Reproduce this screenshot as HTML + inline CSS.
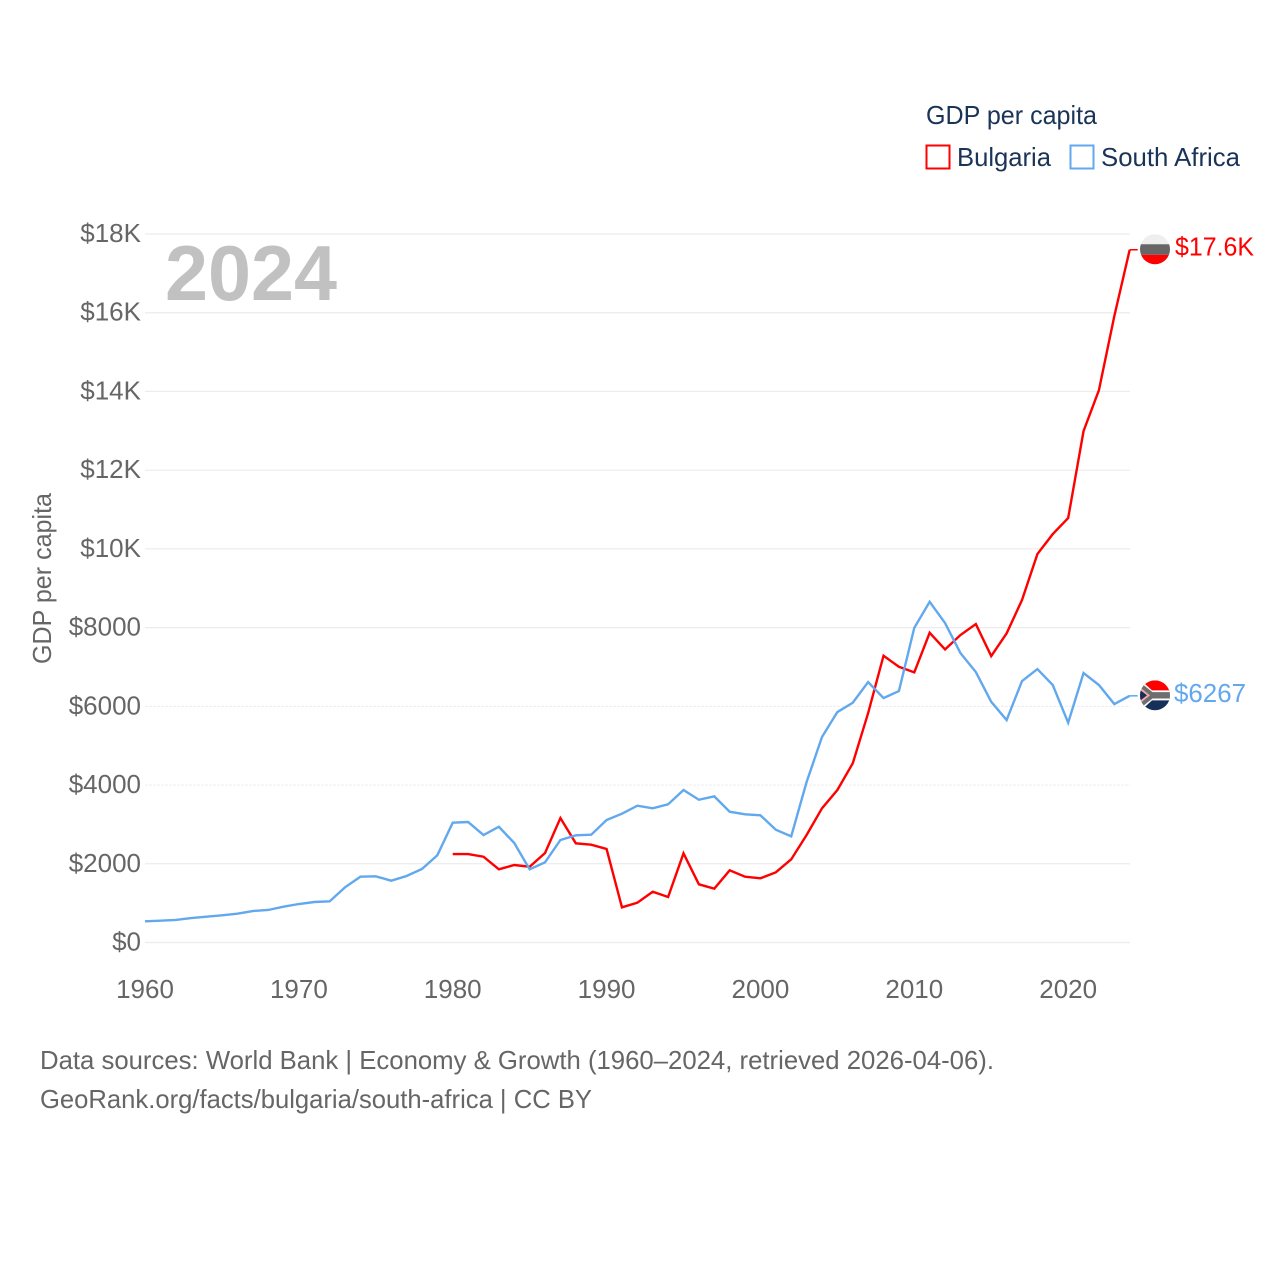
<!DOCTYPE html>
<html lang="en">
<head>
<meta charset="utf-8">
<title>GDP per capita: Bulgaria and South Africa</title>
<style>
html,body{margin:0;padding:0;background:#fff;}
svg{display:block;font-family:"Liberation Sans",sans-serif;}
.tick{font-size:26px;fill:#666;}
.legend{font-size:26px;fill:#1a3358;}
.foot{font-size:26px;fill:#666;}
</style>
</head>
<body>
<svg id="chart" width="1280" height="1280" viewBox="0 0 1280 1280" xmlns="http://www.w3.org/2000/svg">
  <defs>
    <clipPath id="flag-clip"><circle cx="0" cy="0" r="15"></circle></clipPath>
  </defs>
  <rect width="1280" height="1280" fill="#fff"></rect>
  <g id="grid"></g>
  <g id="yticks"></g>
  <g id="xticks"></g>
  <text x="165" y="300" font-size="78" font-weight="bold" fill="#c1c1c1" textLength="172" lengthAdjust="spacingAndGlyphs">2024</text>
  <text class="tick" transform="translate(51,578.5) rotate(-90)" text-anchor="middle" textLength="171" lengthAdjust="spacingAndGlyphs">GDP per capita</text>
  <g id="series"></g>

  <g id="flag-bg">
    <g clip-path="url(#flag-clip)">
      <rect x="-15" y="-15" width="30" height="10" fill="#eeeeee"></rect>
      <rect x="-15" y="-5" width="30" height="10.5" fill="#666666"></rect>
      <rect x="-15" y="5.5" width="30" height="10" fill="#ff0000"></rect>
    </g>
  </g>
  <g id="flag-za">
    <g clip-path="url(#flag-clip)">
      <rect x="-15" y="-15" width="30" height="15" fill="#ff0000"></rect>
      <rect x="-15" y="0" width="30" height="15" fill="#17305a"></rect>
      <path d="M-15,-16 L-3,-5 L15,-5 L15,5 L-3,5 L-15,16 Z" fill="#fff"></path>
      <path d="M-15,-13 L-2.5,-3.2 L15,-3.2 L15,3.2 L-2.5,3.2 L-15,13 Z" fill="#6e6e6e"></path>
      <path d="M-15,-8 L-5,0 L-15,8 Z" fill="#f4a9a9"></path>
      <path d="M-15,-5.5 L-8,0 L-15,5.5 Z" fill="#17305a"></path>
    </g>
  </g>
  <text id="label-bg" font-size="26" fill="#ff0000" textLength="79" lengthAdjust="spacingAndGlyphs"></text>
  <text id="label-za" font-size="26" fill="#62a8ee" textLength="72" lengthAdjust="spacingAndGlyphs"></text>

  <g>
    <text class="legend" x="926" y="124" textLength="171" lengthAdjust="spacingAndGlyphs">GDP per capita</text>
    <g>
      <rect x="926.5" y="145.5" width="23" height="23" fill="#fff" stroke="#ff0000" stroke-width="2"></rect>
      <text class="legend" x="957" y="166" textLength="94" lengthAdjust="spacingAndGlyphs">Bulgaria</text>
    </g>
    <g>
      <rect x="1070.5" y="145.5" width="23" height="23" fill="#fff" stroke="#62a8ee" stroke-width="2"></rect>
      <text class="legend" x="1101" y="166" textLength="139" lengthAdjust="spacingAndGlyphs">South Africa</text>
    </g>
  </g>

  <text class="foot" x="40" y="1069" textLength="954" lengthAdjust="spacingAndGlyphs">Data sources: World Bank | Economy &amp; Growth (1960–2024, retrieved 2026-04-06).</text>
  <text class="foot" x="40" y="1108" textLength="552" lengthAdjust="spacingAndGlyphs">GeoRank.org/facts/bulgaria/south-africa | CC BY</text>
</svg>
<script>
const startYear = 1960;
const endYear = 2024;
const bulgariaStartYear = 1980;
const southAfricaValues = [538,554,572,622,655,691,732,800,826,909,978,1029,1046,1402,1671,1681,1570,1689,1867,2215,3043,3061,2731,2941,2527,1859,2037,2604,2723,2738,3112,3272,3475,3409,3510,3874,3627,3713,3322,3256,3231,2865,2697,4077,5220,5855,6091,6617,6210,6388,7996,8656,8115,7353,6871,6116,5652,6642,6947,6541,5583,6845,6541,6058,6267];
const bulgariaValues = [2248,2248,2179,1859,1969,1925,2273,3162,2520,2484,2375,894,1011,1290,1156,2266,1478,1367,1834,1671,1631,1783,2113,2731,3409,3874,4552,5829,7285,7005,6863,7869,7447,7811,8090,7277,7854,8700,9868,10376,10782,12992,14034,15913,17600];
const yTickValues = [0,2000,4000,6000,8000,10000,12000,14000,16000,18000];
const yTickLabels = ["$0","$2000","$4000","$6000","$8000","$10K","$12K","$14K","$16K","$18K"];
const xTickYears = [1960,1970,1980,1990,2000,2010,2020];
const endValueLabels = ["$17.6K","$6267"];

const NS = "http://www.w3.org/2000/svg";
function xScale(year){ return 145 + (year - startYear) * (1129.7 - 145) / (endYear - startYear); }
function yScale(v){ return 942.5 - v * (942.5 - 234) / 18000; }
function make(tag, parent){ const el = document.createElementNS(NS, tag); parent.appendChild(el); return el; }

const grid = document.getElementById("grid");
const yticks = document.getElementById("yticks");
yTickValues.forEach(function(v, i){
  const line = make("line", grid);
  
  
  line.setAttribute("x1", 145);
  line.setAttribute("x2", 1130);
  line.setAttribute("y1", yScale(v));
  line.setAttribute("y2", yScale(v));
  line.setAttribute("stroke", "#ececec");
  line.setAttribute("stroke-width", v === 4000 || v === 6000 ? 0.8 : 1.2);
  if (v === 4000 || v === 6000) line.setAttribute("stroke-dasharray", "3 1");
  const t = make("text", yticks);
  
  
  t.setAttribute("class", "tick");
  t.setAttribute("x", 141);
  t.setAttribute("y", yScale(v) + 8);
  t.setAttribute("text-anchor", "end");
  t.textContent = yTickLabels[i];
});

const xticks = document.getElementById("xticks");
xTickYears.forEach(function(year){
  const t = make("text", xticks);
  
  
  t.setAttribute("class", "tick");
  t.setAttribute("x", xScale(year));
  t.setAttribute("y", 998);
  t.setAttribute("text-anchor", "middle");
  t.textContent = String(year);
});

function linePoints(values, firstYear){
  return values.map(function(v, i){
    return xScale(firstYear + i).toFixed(2) + "," + yScale(v).toFixed(2);
  }).join(" ");
}

const series = document.getElementById("series");

const bgLine = make("polyline", series);


bgLine.setAttribute("points", linePoints(bulgariaValues, bulgariaStartYear));
bgLine.setAttribute("fill", "none");
bgLine.setAttribute("stroke", "#ff0000");
bgLine.setAttribute("stroke-width", 2.4);
bgLine.setAttribute("stroke-linejoin", "miter");

const zaLine = make("polyline", series);


zaLine.setAttribute("points", linePoints(southAfricaValues, startYear));
zaLine.setAttribute("fill", "none");
zaLine.setAttribute("stroke", "#62a8ee");
zaLine.setAttribute("stroke-width", 2.4);
zaLine.setAttribute("stroke-linejoin", "miter");

const bgLast = bulgariaValues[bulgariaValues.length - 1];
const zaLast = southAfricaValues[southAfricaValues.length - 1];

const bgLead = make("line", series);


bgLead.setAttribute("x1", xScale(endYear));
bgLead.setAttribute("x2", xScale(endYear) + 8);
bgLead.setAttribute("y1", yScale(bgLast));
bgLead.setAttribute("y2", yScale(bgLast));
bgLead.setAttribute("stroke", "#ff0000");
bgLead.setAttribute("stroke-width", 1.5);

const zaLead = make("line", series);


zaLead.setAttribute("x1", xScale(endYear));
zaLead.setAttribute("x2", xScale(endYear) + 8);
zaLead.setAttribute("y1", yScale(zaLast));
zaLead.setAttribute("y2", yScale(zaLast));
zaLead.setAttribute("stroke", "#62a8ee");
zaLead.setAttribute("stroke-width", 1.5);

document.getElementById("flag-bg").setAttribute("transform", "translate(1155," + (yScale(bgLast) - 0.5) + ")");
document.getElementById("flag-za").setAttribute("transform", "translate(1155," + (yScale(zaLast) - 0.5) + ")");

const bgLabel = document.getElementById("label-bg");
bgLabel.setAttribute("x", 1175);
bgLabel.setAttribute("y", yScale(bgLast) + 6);
bgLabel.textContent = endValueLabels[0];

const zaLabel = document.getElementById("label-za");
zaLabel.setAttribute("x", 1174);
zaLabel.setAttribute("y", yScale(zaLast) + 6);
zaLabel.textContent = endValueLabels[1];
</script>
</body>
</html>
